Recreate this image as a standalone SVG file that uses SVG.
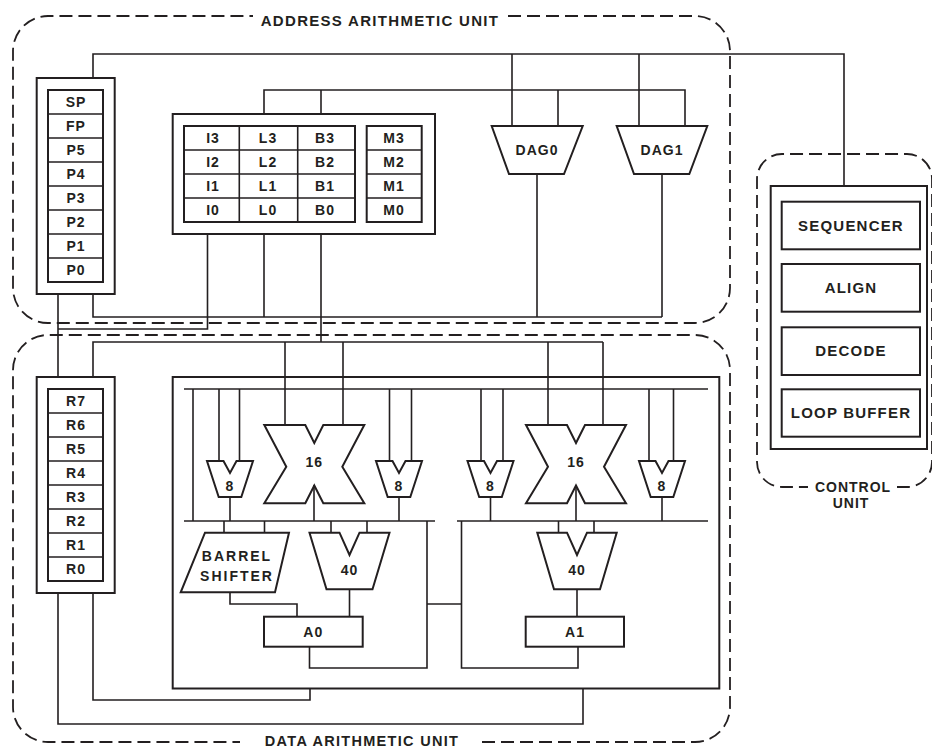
<svg xmlns="http://www.w3.org/2000/svg" width="932" height="749" viewBox="0 0 932 749">
<style>
.ln{fill:none;stroke:#231f20;stroke-width:1.6}
.bx{fill:none;stroke:#231f20;stroke-width:2}
.dash{fill:none;stroke:#231f20;stroke-width:1.8;stroke-dasharray:13 6}
.t{font-family:"Liberation Sans",Arial,sans-serif;font-weight:bold;font-size:14px;fill:#231f20;text-anchor:middle;letter-spacing:1px}
.tc{font-size:15px;letter-spacing:1.2px}
.tt{font-size:15px;letter-spacing:1.3px}
</style>
<rect width="932" height="749" fill="#fff"/>

<g id="address-unit">
<path class="dash" d="M508,16 H695 A35,35 0 0 1 730,51 V288 A35,35 0 0 1 695,323 H48 A35,35 0 0 1 13,288 V51 A35,35 0 0 1 48,16 H253"/>
<text class="t tt" x="380" y="26">ADDRESS ARITHMETIC UNIT</text>
</g>
<g id="data-unit">
<path class="dash" d="M482,742 H695 A35,35 0 0 0 730,707 V370 A35,35 0 0 0 695,335 H48 A35,35 0 0 0 13,370 V707 A35,35 0 0 0 48,742 H240"/>
<text class="t" x="362" y="746" style="font-size:14.5px;letter-spacing:1.3px">DATA ARITHMETIC UNIT</text>
</g>
<g id="control-unit">
<path class="dash" d="M897,487 H907 A25,25 0 0 0 932,462 V179 A25,25 0 0 0 907,154 H782 A25,25 0 0 0 757,179 V462 A25,25 0 0 0 782,487 H808"/>
<text class="t" x="853" y="492">CONTROL</text>
<text class="t" x="851" y="508">UNIT</text>
</g>

<g id="connectors">
<polyline class="ln" points="93,78 93,54 844,54 844,186"/>
<line class="ln" x1="512" y1="54" x2="512" y2="126"/>
<line class="ln" x1="639" y1="54" x2="639" y2="126"/>
<polyline class="ln" points="264,114 264,90 685,90 685,126"/>
<line class="ln" x1="321" y1="90" x2="321" y2="114"/>
<line class="ln" x1="558" y1="90" x2="558" y2="126"/>
<line class="ln" x1="537" y1="174" x2="537" y2="317"/>
<line class="ln" x1="662" y1="174" x2="662" y2="317"/>
<polyline class="ln" points="93,294 93,317 662,317"/>
<line class="ln" x1="264" y1="234" x2="264" y2="317"/>
<polyline class="ln" points="207.5,234 207.5,329 58,329"/>
<line class="ln" x1="58" y1="294" x2="58" y2="377"/>
<line class="ln" x1="321" y1="234" x2="321" y2="342"/>
<polyline class="ln" points="93,377 93,342 603,342"/>
<line class="ln" x1="285" y1="342" x2="285" y2="425"/>
<line class="ln" x1="343" y1="342" x2="343" y2="425"/>
<line class="ln" x1="548" y1="342" x2="548" y2="425"/>
<line class="ln" x1="603" y1="342" x2="603" y2="425"/>
<line class="ln" x1="184" y1="389" x2="708" y2="389"/>
<line class="ln" x1="193" y1="389" x2="193" y2="521"/>
<line class="ln" x1="219" y1="389" x2="219" y2="461"/>
<line class="ln" x1="239.5" y1="389" x2="239.5" y2="461"/>
<line class="ln" x1="230" y1="497" x2="230" y2="521"/>
<line class="ln" x1="389.5" y1="389" x2="389.5" y2="461"/>
<line class="ln" x1="411.5" y1="389" x2="411.5" y2="461"/>
<line class="ln" x1="399" y1="497" x2="399" y2="521"/>
<line class="ln" x1="314" y1="485" x2="314" y2="521"/>
<line class="ln" x1="184" y1="521" x2="435" y2="521"/>
<line class="ln" x1="224" y1="521" x2="224" y2="533"/>
<line class="ln" x1="264.5" y1="521" x2="264.5" y2="533"/>
<line class="ln" x1="331" y1="521" x2="331" y2="533"/>
<line class="ln" x1="367" y1="521" x2="367" y2="533"/>
<polyline class="ln" points="230,592 230,604 297,604 297,617"/>
<line class="ln" x1="349.5" y1="589" x2="349.5" y2="617"/>
<polyline class="ln" points="309.5,647 309.5,668 427,668 427,521"/>
<line class="ln" x1="427" y1="604" x2="461.5" y2="604"/>
<polyline class="ln" points="461.5,521 461.5,668 578,668 578,647"/>
<line class="ln" x1="481" y1="389" x2="481" y2="461"/>
<line class="ln" x1="503" y1="389" x2="503" y2="461"/>
<line class="ln" x1="490.5" y1="497" x2="490.5" y2="521"/>
<line class="ln" x1="649" y1="389" x2="649" y2="461"/>
<line class="ln" x1="673.5" y1="389" x2="673.5" y2="461"/>
<line class="ln" x1="662" y1="497" x2="662" y2="521"/>
<line class="ln" x1="576" y1="485" x2="576" y2="521"/>
<line class="ln" x1="457" y1="521" x2="708" y2="521"/>
<line class="ln" x1="558.5" y1="521" x2="558.5" y2="533"/>
<line class="ln" x1="594" y1="521" x2="594" y2="533"/>
<line class="ln" x1="577" y1="589" x2="577" y2="617"/>
<polyline class="ln" points="93,593 93,700 310,700 310,688.5"/>
<polyline class="ln" points="58,593 58,724 583,724 583,688.5"/>
</g>

<g id="pointer-registers">
<rect class="bx" x="36.7" y="78" width="78" height="216"/>
<rect class="bx" x="48" y="90" width="55" height="192"/>
<path class="ln" d="M48,114H103M48,138H103M48,162H103M48,186H103M48,210H103M48,234H103M48,258H103"/>
<text class="t" x="76" y="107">SP</text>
<text class="t" x="76" y="131">FP</text>
<text class="t" x="76" y="155">P5</text>
<text class="t" x="76" y="179">P4</text>
<text class="t" x="76" y="203">P3</text>
<text class="t" x="76" y="227">P2</text>
<text class="t" x="76" y="251">P1</text>
<text class="t" x="76" y="275">P0</text>
</g>

<g id="dag-registers">
<rect class="bx" x="172.7" y="114" width="262.3" height="120"/>
<rect class="bx" x="184" y="126" width="171" height="96"/>
<path class="ln" d="M239.3,126V222M297.7,126V222M184,150H355M184,174H355M184,198H355"/>
<rect class="bx" x="366.7" y="126" width="55" height="96"/>
<path class="ln" d="M366.7,150H421.7M366.7,174H421.7M366.7,198H421.7"/>
<text class="t" x="213" y="143">I3</text>
<text class="t" x="213" y="167">I2</text>
<text class="t" x="213" y="191">I1</text>
<text class="t" x="213" y="215">I0</text>
<text class="t" x="268" y="143">L3</text>
<text class="t" x="268" y="167">L2</text>
<text class="t" x="268" y="191">L1</text>
<text class="t" x="268" y="215">L0</text>
<text class="t" x="325" y="143">B3</text>
<text class="t" x="325" y="167">B2</text>
<text class="t" x="325" y="191">B1</text>
<text class="t" x="325" y="215">B0</text>
<text class="t" x="394" y="143">M3</text>
<text class="t" x="394" y="167">M2</text>
<text class="t" x="394" y="191">M1</text>
<text class="t" x="394" y="215">M0</text>
</g>

<g id="dag0">
<polygon class="bx" points="491.7,126 582.7,126 564,174 509,174"/>
<text class="t" x="537" y="155">DAG0</text>
</g>
<g id="dag1">
<polygon class="bx" points="616.7,126 707.3,126 689.3,174 634,174"/>
<text class="t" x="662" y="155">DAG1</text>
</g>

<g id="control">
<rect class="bx" x="770.7" y="186" width="156.3" height="263"/>
<rect class="bx" x="781.7" y="201.7" width="138.3" height="47.6"/>
<rect class="bx" x="781.7" y="264" width="138.3" height="47.7"/>
<rect class="bx" x="781.7" y="327.3" width="138.3" height="47.7"/>
<rect class="bx" x="781.7" y="389.3" width="138.3" height="47.4"/>
<text class="t tc" x="851" y="231">SEQUENCER</text>
<text class="t tc" x="851" y="293">ALIGN</text>
<text class="t tc" x="851" y="356">DECODE</text>
<text class="t tc" x="851" y="418">LOOP BUFFER</text>
</g>

<g id="data-registers">
<rect class="bx" x="36.7" y="377" width="78" height="216"/>
<rect class="bx" x="48" y="389" width="55" height="192"/>
<path class="ln" d="M48,413H103M48,437H103M48,461H103M48,485H103M48,509H103M48,533H103M48,557H103"/>
<text class="t" x="76" y="406">R7</text>
<text class="t" x="76" y="430">R6</text>
<text class="t" x="76" y="454">R5</text>
<text class="t" x="76" y="478">R4</text>
<text class="t" x="76" y="502">R3</text>
<text class="t" x="76" y="526">R2</text>
<text class="t" x="76" y="550">R1</text>
<text class="t" x="76" y="574">R0</text>
</g>

<g id="data-path">
<rect class="bx" x="172.7" y="377" width="546.6" height="311.5"/>
</g>

<g id="add8-0a">
<polygon class="bx" points="207,461 223.5,461 230,473 236.5,461 253,461 241.3,497 218.7,497"/>
<text class="t" x="230" y="491">8</text>
</g>
<g id="mult0">
<polygon class="bx" points="264.3,425 305.3,425 314.3,443 323.3,425 364.3,425 342.3,466.7 364.3,503.3 323.3,503.3 314.3,485.5 305.3,503.3 264.3,503.3 286.3,466.7"/>
<text class="t" x="314.3" y="467">16</text>
</g>
<g id="add8-0b">
<polygon class="bx" points="376,461 392.5,461 399,473 405.5,461 422,461 410.3,497 387.7,497"/>
<text class="t" x="399" y="491">8</text>
</g>
<g id="barrel-shifter">
<polygon class="bx" points="205,532.7 289,532.7 275,592.3 180.7,592.3"/>
<text class="t" x="237" y="561" style="letter-spacing:2px">BARREL</text>
<text class="t" x="237" y="581" style="letter-spacing:2px">SHIFTER</text>
</g>
<g id="alu40-0">
<polygon class="bx" points="309.5,532.7 339.5,532.7 349.5,555 359.5,532.7 389.5,532.7 372.5,589.3 326.5,589.3"/>
<text class="t" x="349.5" y="575">40</text>
</g>
<g id="a0">
<rect class="bx" x="264" y="616.7" width="98.7" height="30"/>
<text class="t" x="313.3" y="637">A0</text>
</g>

<g id="add8-1a">
<polygon class="bx" points="467.5,461 484,461 490.5,473 497,461 513.5,461 501.8,497 479.2,497"/>
<text class="t" x="490.5" y="491">8</text>
</g>
<g id="mult1">
<polygon class="bx" points="526,425 567,425 576,443 585,425 626,425 604,466.7 626,503.3 585,503.3 576,485.5 567,503.3 526,503.3 548,466.7"/>
<text class="t" x="576" y="467">16</text>
</g>
<g id="add8-1b">
<polygon class="bx" points="639,461 655.5,461 662,473 668.5,461 685,461 673.3,497 650.7,497"/>
<text class="t" x="662" y="491">8</text>
</g>
<g id="alu40-1">
<polygon class="bx" points="537.3,532.7 567,532.7 577,555 587,532.7 616.7,532.7 600,589.3 554,589.3"/>
<text class="t" x="577" y="575">40</text>
</g>
<g id="a1">
<rect class="bx" x="525.7" y="616.7" width="98.3" height="30"/>
<text class="t" x="575" y="637">A1</text>
</g>
</svg>
